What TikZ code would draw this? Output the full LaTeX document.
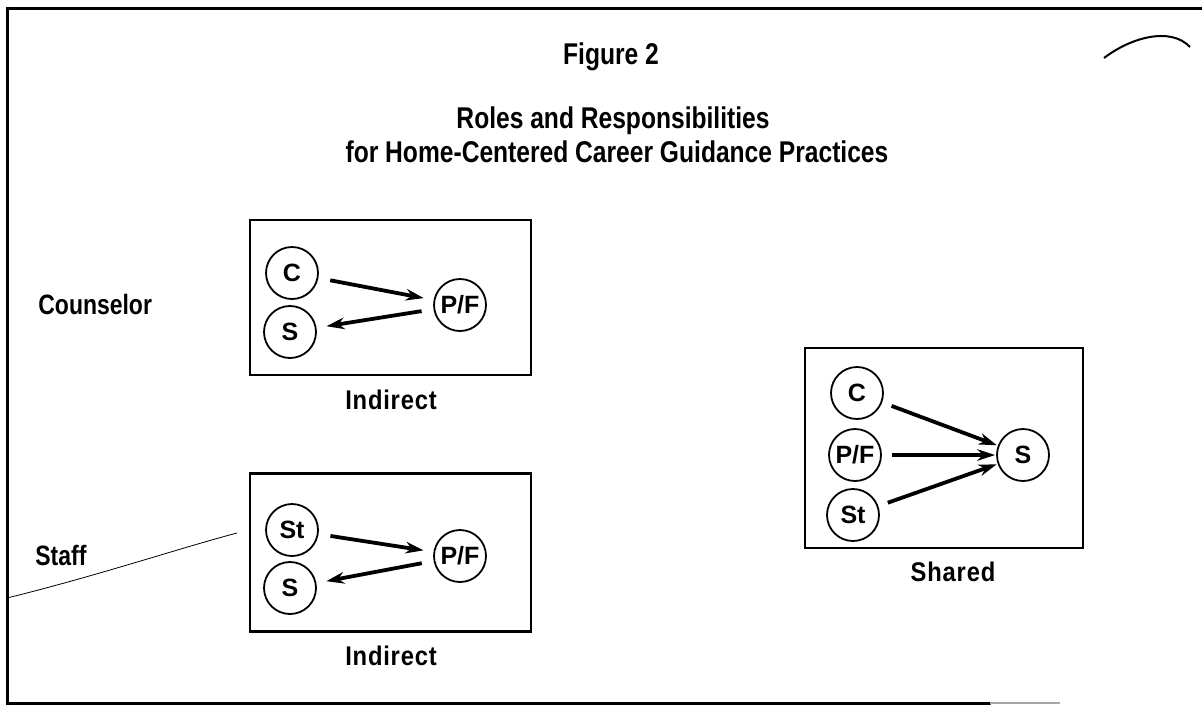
\documentclass[tikz,border=0pt]{standalone}
\usepackage{fontspec}
\setmainfont{Liberation Sans}
\newfontfamily\narrowfont{Liberation Sans}[FakeStretch=0.82]
\newfontfamily\spacedfont{Liberation Sans}[FakeStretch=0.88, LetterSpace=3]
\usetikzlibrary{arrows.meta}
\begin{document}
\begin{tikzpicture}[x=0.5pt,y=-0.5pt,
  frameline/.style={line width=1.5pt, line cap=round},
  panel/.style={draw, line width=1.3pt, inner sep=0pt},
  role/.style={circle, draw, line width=0.9pt, minimum size=26pt, inner sep=0pt,
    font=\fontsize{12.5}{12.5}\selectfont\bfseries},
  flow/.style={line width=1.9pt, -{Stealth[length=9pt,width=5.8pt]}, shorten <=6pt, shorten >=5pt},
  converge/.style={line width=1.9pt, -{Stealth[length=9pt,width=5.8pt]}, shorten <=5pt, shorten >=0.5pt},
  heading/.style={font=\narrowfont\fontsize{15}{17}\selectfont\bfseries, inner sep=0pt},
  rowlabel/.style={font=\narrowfont\fontsize{14}{16}\selectfont\bfseries, anchor=west, inner sep=0pt},
  mode/.style={font=\spacedfont\fontsize{13.5}{15}\selectfont\bfseries, inner sep=0pt},
  scratch/.style={line width=0.4pt}
]
\useasboundingbox (0,0) rectangle (1202,708);

% outer frame (open on the right)
\draw[frameline] (1202,8) -- (7,8) -- (7,703) -- (990,703);
\draw[line width=1pt, black!35] (990,703) -- (1060,703);

% headings
\node[heading] (fig) at (611,57) {Figure 2};
\node[heading] (t1) at (613,121) {Roles and Responsibilities};
\node[heading] (t2) at (617,152) {for Home-Centered Career Guidance Practices};

% row labels
\node[rowlabel] (counselor) at (38,304) {Counselor};
\node[rowlabel] (staff) at (35,555) {Staff};

% counselor panel: indirect
\node[panel, minimum width=140.5pt, minimum height=77.5pt] (box1) at (390.5,297.5) {};
\node[role] (c1) at (292,273) {C};
\node[role] (s1) at (290,332) {S};
\node[role] (pf1) at (460,305) {P/F};
\draw[flow] (c1) -- (pf1);
\draw[flow] (pf1) -- (s1);
\node[mode] (ind1) at (391,400) {Indirect};

% staff panel: indirect
\node[panel, minimum width=140.5pt, minimum height=79pt] (box2) at (390.5,552.5) {};
\node[role] (st2) at (292,530) {St};
\node[role] (s2) at (290,588) {S};
\node[role] (pf2) at (460,556) {P/F};
\draw[flow] (st2) -- (pf2);
\draw[flow] (pf2) -- (s2);
\node[mode] (ind2) at (391,656) {Indirect};

% shared panel
\node[panel, minimum width=139pt, minimum height=100pt] (box3) at (944,448) {};
\node[role] (c3) at (857,393) {C};
\node[role] (pf3) at (855,455) {P/F};
\node[role] (st3) at (853,515) {St};
\node[role] (s3) at (1023,455) {S};
\draw[converge] (c3) -- (s3);
\draw[converge] (pf3) -- (s3);
\draw[converge] (st3) -- (s3);
\node[mode] (shared) at (953,572) {Shared};

% stray pen strokes
\coordinate (pa) at (7,598);
\coordinate (pb) at (237,533);
\draw[scratch] (pa) .. controls (100,575) and (180,548) .. (pb);
\coordinate (qa) at (1104,58);
\coordinate (qb) at (1190,47);
\draw[line width=1pt] (qa) .. controls (1130,38) and (1170,26) .. (qb);
\end{tikzpicture}
\end{document}
